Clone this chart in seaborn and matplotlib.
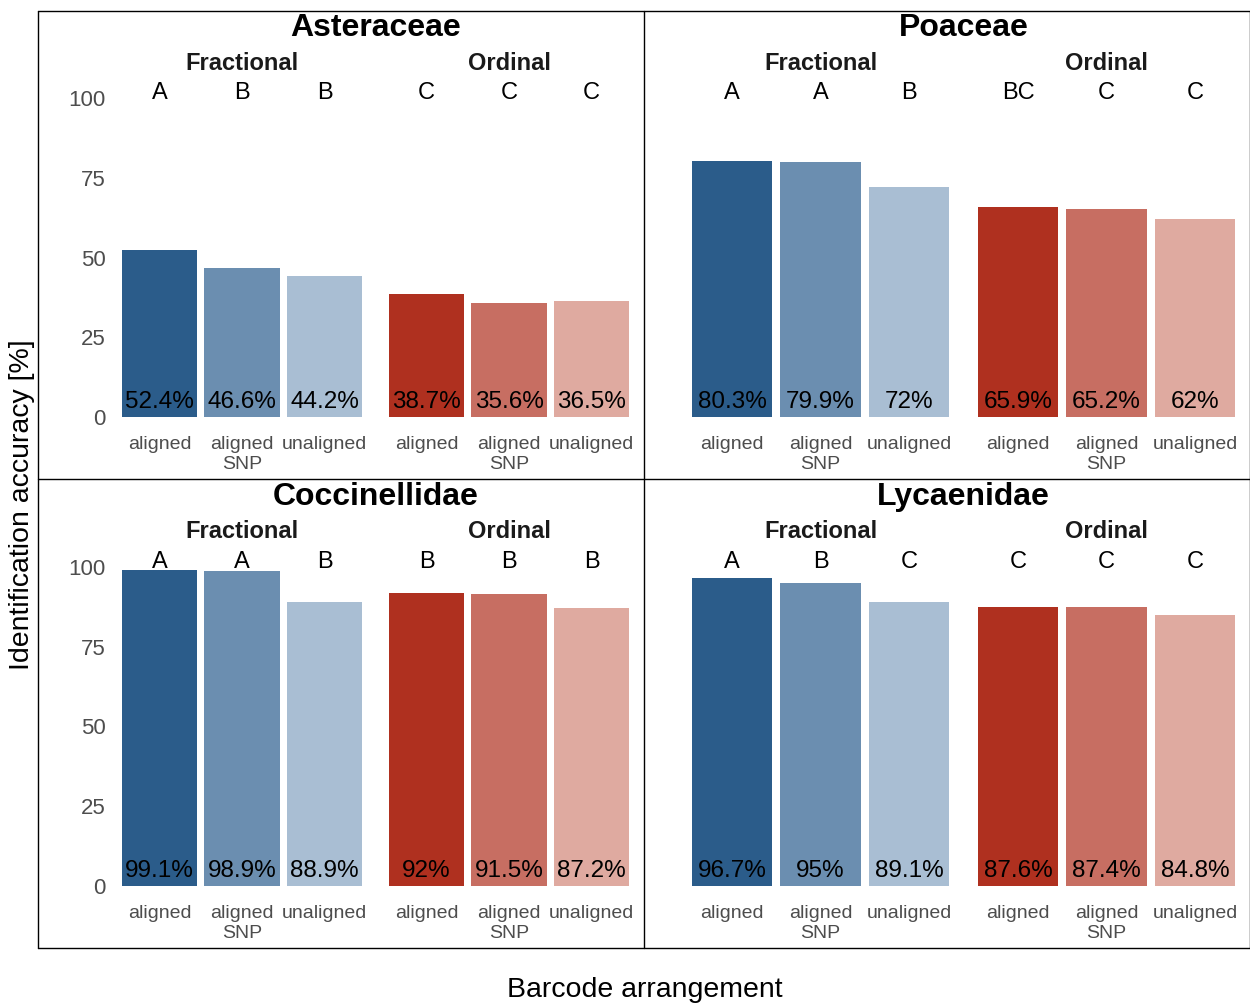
import matplotlib
matplotlib.use("Agg")
from matplotlib import pyplot as plt
from matplotlib.lines import Line2D
import seaborn as sns
import pandas as pd

sns.set_theme(style="white")
plt.rcParams['font.family'] = ['Liberation Sans', 'DejaVu Sans']
plt.rcParams['text.color'] = 'black'

# データ
families = ["Asteraceae", "Poaceae", "Coccinellidae", "Lycaenidae"]
methods = ["Fractional", "Ordinal"]
arrangements = ["aligned", "aligned\nSNP", "unaligned"]

frac_vals = {"Asteraceae": [52.4, 46.6, 44.2], "Poaceae": [80.3, 79.9, 72],
             "Coccinellidae": [99.1, 98.9, 88.9], "Lycaenidae": [96.7, 95, 89.1]}
ord_vals = {"Asteraceae": [38.7, 35.6, 36.5], "Poaceae": [65.9, 65.2, 62],
            "Coccinellidae": [92, 91.5, 87.2], "Lycaenidae": [87.6, 87.4, 84.8]}
frac_letters = {"Asteraceae": ["A", "B", "B"], "Poaceae": ["A", "A", "B"],
                "Coccinellidae": ["A", "A", "B"], "Lycaenidae": ["A", "B", "C"]}
ord_letters = {"Asteraceae": ["C", "C", "C"], "Poaceae": ["BC", "C", "C"],
               "Coccinellidae": ["B", "B", "B"], "Lycaenidae": ["C", "C", "C"]}
yticks = [0, 25, 50, 75, 100]

blues = ["#2B5C8A", "#6B8EB0", "#A9BED3"]
reds = ["#AF301F", "#C76E62", "#DFAAA0"]

W, H = 1250, 1005
fig = plt.figure(figsize=(W / 100, H / 100), dpi=100)

def px_axes(x0, x1, ytop, ybot):
    return fig.add_axes([x0 / W, 1 - ybot / H, (x1 - x0) / W, (ybot - ytop) / H])

# パネル位置 (px)
col_x = {0: [(110, 374), (377, 641)], 1: [(679, 962), (965, 1248)]}
row_y = {0: 417, 1: 886}
scale = 3.19

for k, fam in enumerate(families):
    r, c = divmod(k, 2)
    ybot = row_y[r]
    ytop = ybot - 105 * scale
    for m, meth in enumerate(methods):
        x0, x1 = col_x[c][m]
        ax = px_axes(x0, x1, ytop, ybot)
        vals = frac_vals[fam] if m == 0 else ord_vals[fam]
        lets = frac_letters[fam] if m == 0 else ord_letters[fam]
        pal = blues if m == 0 else reds
        df = pd.DataFrame({"arr": arrangements, "acc": vals})
        sns.barplot(data=df, x="arr", y="acc", hue="arr", palette=pal,
                    order=arrangements, hue_order=arrangements, legend=False,
                    width=0.91, saturation=1, linewidth=0, ax=ax)
        ax.set_xlim(-0.6, 2.6)
        ax.set_ylim(0, 105)
        for i, (v, l) in enumerate(zip(vals, lets)):
            ax.text(i, 4.6, f"{v:g}%", ha="center", va="center", fontsize=17.5, color="black")
            ax.text(i, 101.5, l, ha="center", va="center", fontsize=17, color="black", clip_on=False)
        ax.set_xlabel("")
        ax.set_ylabel("")
        ax.tick_params(axis="x", length=0, pad=14, labelsize=14, labelcolor="#4d4d4d")
        if c == 0 and m == 0:
            ax.set_yticks(yticks)
            ax.tick_params(axis="y", length=0, pad=3, labelsize=16, labelcolor="#4d4d4d")
        else:
            ax.set_yticks([])
        for s in ax.spines.values():
            s.set_visible(False)
        ax.patch.set_alpha(0)
        # Fractional / Ordinal
        fig.text(((x0 + x1) / 2) / W, 1 - (ybot - 354) / H, meth, ha="center", va="center",
                 fontsize=17, fontweight="bold", color="#1a1a1a")
    # タイトル
    tx = (col_x[c][0][0] + col_x[c][1][1]) / 2
    fig.text(tx / W, 1 - (ybot - 389) / H, fam, ha="center", va="center",
             fontsize=23, fontweight="bold", color="black")

# 枠線
for y in [11, 479, 948]:
    fig.add_artist(Line2D([38 / W, 1249.5 / W], [1 - y / H, 1 - y / H], color="black", lw=1))
for x in [38, 644, 1249.5]:
    fig.add_artist(Line2D([x / W, x / W], [1 - 11 / H, 1 - 948 / H], color="black", lw=1))

fig.text(22 / W, 1 - 505 / H, "Identification accuracy [%]", rotation=90,
         ha="center", va="center", fontsize=20.5, color="black")
fig.text(645 / W, 1 - 990 / H, "Barcode arrangement", ha="center", va="center",
         fontsize=20.5, color="black")

plt.savefig("out.png", dpi=100)
